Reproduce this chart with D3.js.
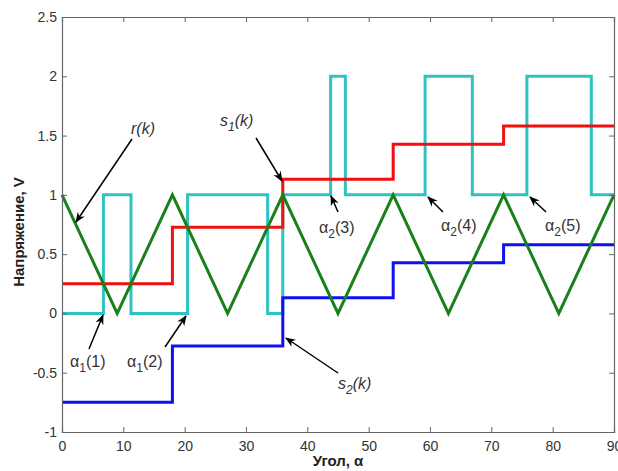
<!DOCTYPE html>
<html><head><meta charset="utf-8">
<script src="https://cdn.jsdelivr.net/npm/d3@7"></script>
<style>body{margin:0;background:#fff;} svg{display:block;font-family:"Liberation Sans",Arial,sans-serif;}</style>
</head><body>
<svg id="c" width="618" height="471"></svg>
<script>
// r(k) triangle wave vertices [angle, value]
const rX = [0,9,18,27,36,45,54,63,72,81,90];
const rY = [1,0,1,0,1,0,1,0,1,0,1];
// s1(k) staircase (step starts)
const s1X = [0,18,36,54,72,90];
const s1Y = [0.25,0.726,1.132,1.427,1.58,1.58];
// s2(k) staircase
const s2X = [0,18,36,54,72,90];
const s2Y = [-0.75,-0.274,0.132,0.427,0.58,0.58];
// switching signal (step starts)
const pX = [0,6.75,11.25,20.47,33.53,36,43.8,46.2,59.2,66.9,75.8,86.3,90];
const pY = [0,1,0,1,0,1,2,1,2,1,2,1,1];
const xTicks = [0,10,20,30,40,50,60,70,80,90];
const yTicks = [-1,-0.5,0,0.5,1,1.5,2,2.5];

const svg = d3.select("#c");
const L=62,R=614,T=17,B=432;
const x = d3.scaleLinear().domain([0,90]).range([L,R]);
const y = d3.scaleLinear().domain([-1,2.5]).range([B,T]);

const defs = svg.append("defs");
defs.append("marker").attr("id","ah").attr("viewBox","0 0 10 10").attr("refX",9).attr("refY",5)
  .attr("markerWidth",7).attr("markerHeight",7).attr("orient","auto")
  .append("path").attr("d","M0,1 L10,5 L0,9 L3,5 Z").attr("fill","#000");

const plot = svg.append("g");
function zip(a,b){return a.map((v,i)=>[v,b[i]]);}
const stepLine = d3.line().x(d=>x(d[0])).y(d=>y(d[1])).curve(d3.curveStepAfter);
const lin = d3.line().x(d=>x(d[0])).y(d=>y(d[1]));

plot.append("path").attr("d",stepLine(zip(pX,pY))).attr("fill","none").attr("stroke","#2ec2c2").attr("stroke-width",3);
plot.append("path").attr("d",stepLine(zip(s1X,s1Y))).attr("fill","none").attr("stroke","#f01010").attr("stroke-width",3);
plot.append("path").attr("d",stepLine(zip(s2X,s2Y))).attr("fill","none").attr("stroke","#1010f0").attr("stroke-width",3);
plot.append("path").attr("d",lin(zip(rX,rY))).attr("fill","none").attr("stroke","#1a801a").attr("stroke-width",3);

// axes box
const ax = svg.append("g");
const gb = ax.append("g").attr("transform",`translate(0,${B})`).call(d3.axisBottom(x).tickValues(xTicks).tickSize(-5).tickPadding(9).tickFormat(d3.format("d")));
const gt = ax.append("g").attr("transform",`translate(0,${T})`).call(d3.axisTop(x).tickValues(xTicks).tickSize(-5).tickFormat(""));
const gl = ax.append("g").attr("transform",`translate(${L},0)`).call(d3.axisLeft(y).tickValues(yTicks).tickSize(-5).tickPadding(5).tickFormat(d=>String(d)));
const gr = ax.append("g").attr("transform",`translate(${R},0)`).call(d3.axisRight(y).tickValues(yTicks).tickSize(-5).tickFormat(""));
ax.selectAll(".domain").attr("stroke","#666").attr("stroke-width",1.2);
ax.selectAll(".tick line").attr("stroke","#666");
ax.selectAll(".tick text").attr("fill","#333").style("font-size","14px").style("font-family","'Liberation Sans',Arial,sans-serif");

// axis labels
svg.append("text").attr("x",338).attr("y",466).attr("text-anchor","middle").attr("font-weight","bold").attr("font-size","15px").attr("fill","#222").text("Угол, α");
svg.append("text").attr("transform","translate(24,232) rotate(-90)").attr("text-anchor","middle").attr("font-weight","bold").attr("font-size","15px").attr("fill","#222").text("Напряжение, V");

// annotations
const ann = svg.append("g").attr("font-size","16px").attr("fill","#333");
function arrow(x1,y1,x2,y2){
  svg.append("line").attr("x1",x1).attr("y1",y1).attr("x2",x2).attr("y2",y2).attr("stroke","#000").attr("stroke-width",1.5).attr("marker-end","url(#ah)");
}
function label(tx,ty,main,sub,rest,italic){
  const t = ann.append("text").attr("x",tx).attr("y",ty).attr("font-style",italic?"italic":"normal");
  t.append("tspan").text(main);
  if(sub){ t.append("tspan").attr("dy",5).attr("font-size","12px").text(sub);
           t.append("tspan").attr("dy",-5).text(rest); }
  else if(rest) t.append("tspan").text(rest);
}
label(131,134,"r(k)",null,null,true);
arrow(132,139,76,222);
label(220,126,"s",1,"(k)",true);
arrow(256,138,282,181);
label(338,389,"s",2,"(k)",true);
arrow(338,373,286,338);
label(319,233,"α",2,"(3)",false);
arrow(338,212,331,196);
label(441,231,"α",2,"(4)",false);
arrow(443,212,428,197);
label(545,231,"α",2,"(5)",false);
arrow(546,212,530,197);
label(70,367,"α",1,"(1)",false);
arrow(89,349,103,315);
label(127,367,"α",1,"(2)",false);
arrow(165,347,186,316);
</script>
</body></html>
